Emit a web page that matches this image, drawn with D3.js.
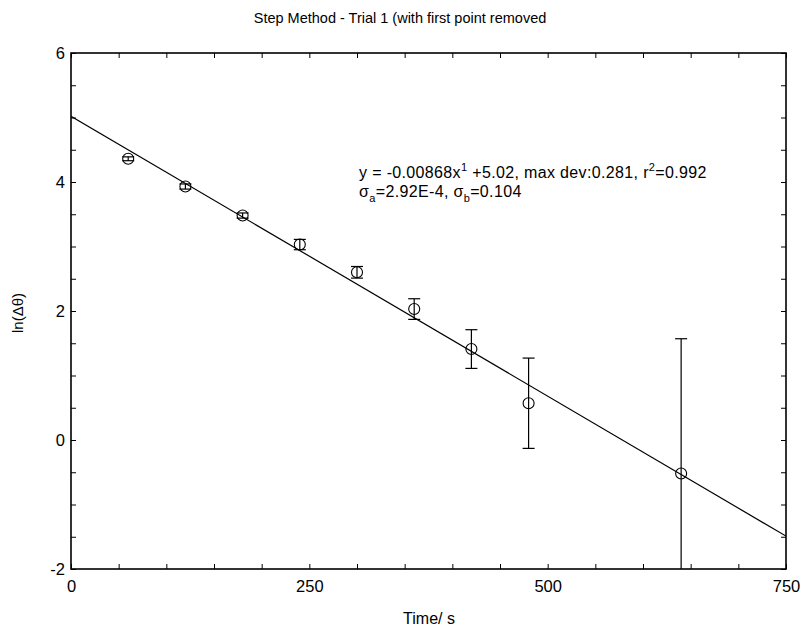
<!DOCTYPE html>
<html>
<head>
<meta charset="utf-8">
<title>Step Method</title>
<script src="https://d3js.org/d3.v7.min.js"></script>
<style>
  body { margin: 0; background: #fff; }
  text { font-family: "Liberation Sans", Arial, sans-serif; fill: #000; }
</style>
</head>
<body>
<div id="container"></div>
<script>
// data
var times = [60, 120, 180, 240, 300, 360, 420, 480, 640];
var lnDelta = [4.36, 3.93, 3.48, 3.03, 2.60, 2.03, 1.41, 0.57, -0.52];
var errors = [0.03, 0.04, 0.04, 0.08, 0.09, 0.16, 0.30, 0.70, 2.09];
var fitSlope = -0.00868;
var fitIntercept = 5.02;
var xTicks = [0, 250, 500, 750];
var yTicks = [-2, 0, 2, 4, 6];

var width = 801, height = 631;
var margin = {left: 71, right: 15, top: 53, bottom: 62};

var svg = d3.select("#container").append("svg")
    .attr("width", width).attr("height", height);

var x = d3.scaleLinear().domain([0, 750]).range([margin.left, width - margin.right]);
var y = d3.scaleLinear().domain([-2, 6]).range([height - margin.bottom, margin.top]);

svg.append("defs").append("clipPath").attr("id", "clip")
  .append("rect")
    .attr("x", x(0)).attr("y", y(6))
    .attr("width", x(750) - x(0)).attr("height", y(-2) - y(6));

// minor ticks every 50 on x, every 0.5 on y, inward on all four sides
var xMinor = d3.range(0, 751, 50);
var yMinor = d3.range(-2, 6.01, 0.5);

svg.append("g").attr("transform", "translate(0," + y(-2) + ")")
    .call(d3.axisTop(x).tickValues(xMinor).tickSize(5).tickFormat(""))
    .call(g => g.select(".domain").remove());
svg.append("g").attr("transform", "translate(0," + y(6) + ")")
    .call(d3.axisBottom(x).tickValues(xMinor).tickSize(5).tickFormat(""))
    .call(g => g.select(".domain").remove());
svg.append("g").attr("transform", "translate(" + x(0) + ",0)")
    .call(d3.axisRight(y).tickValues(yMinor).tickSize(5).tickFormat(""))
    .call(g => g.select(".domain").remove());
svg.append("g").attr("transform", "translate(" + x(750) + ",0)")
    .call(d3.axisLeft(y).tickValues(yMinor).tickSize(5).tickFormat(""))
    .call(g => g.select(".domain").remove());

// labels (plain hyphen for negatives, like the original)
var plain = function(d) { return String(d); };
svg.append("g").attr("transform", "translate(0," + y(-2) + ")")
    .call(d3.axisBottom(x).tickValues(xTicks).tickSize(0).tickPadding(11).tickFormat(plain))
    .call(g => g.select(".domain").remove())
    .selectAll("text").style("font-size", "16.5px").attr("font-family", null);
svg.append("g").attr("transform", "translate(" + x(0) + ",0)")
    .call(d3.axisLeft(y).tickValues(yTicks).tickSize(0).tickPadding(6).tickFormat(plain))
    .call(g => g.select(".domain").remove())
    .selectAll("text").style("font-size", "16.5px").attr("font-family", null);

// frame
svg.append("rect")
    .attr("x", x(0)).attr("y", y(6))
    .attr("width", x(750) - x(0)).attr("height", y(-2) - y(6))
    .attr("fill", "none").attr("stroke", "#000").attr("stroke-width", 1.6);

var plot = svg.append("g").attr("clip-path", "url(#clip)");

// fit line
plot.append("line")
    .attr("x1", x(0)).attr("y1", y(fitIntercept))
    .attr("x2", x(750)).attr("y2", y(fitIntercept + fitSlope * 750))
    .attr("stroke", "#000").attr("stroke-width", 1.2);

var pts = times.map(function(t, i) { return {t: t, v: lnDelta[i], e: errors[i]}; });

var bars = plot.selectAll(".err").data(pts).enter().append("g")
    .attr("stroke", "#000").attr("stroke-width", 1.2);
bars.append("line")
    .attr("x1", d => x(d.t)).attr("x2", d => x(d.t))
    .attr("y1", d => y(d.v - d.e)).attr("y2", d => y(d.v + d.e));
bars.append("line")
    .attr("x1", d => x(d.t) - 6).attr("x2", d => x(d.t) + 6)
    .attr("y1", d => y(d.v + d.e)).attr("y2", d => y(d.v + d.e));
bars.append("line")
    .attr("x1", d => x(d.t) - 6).attr("x2", d => x(d.t) + 6)
    .attr("y1", d => y(d.v - d.e)).attr("y2", d => y(d.v - d.e));

plot.selectAll(".pt").data(pts).enter().append("circle")
    .attr("cx", d => x(d.t)).attr("cy", d => y(d.v)).attr("r", 5.5)
    .attr("fill", "none").attr("stroke", "#000").attr("stroke-width", 1.1);

// title and axis titles
svg.append("text").attr("x", 400).attr("y", 23).attr("text-anchor", "middle")
    .style("font-size", "14.5px").text("Step Method - Trial 1 (with first point removed");
svg.append("text").attr("x", 429).attr("y", 624).attr("text-anchor", "middle")
    .style("font-size", "16px").text("Time/ s");
svg.append("text").attr("transform", "translate(23,313) rotate(-90)")
    .attr("text-anchor", "middle").style("font-size", "15px").text("ln(Δθ)");

// fit annotation
var ann = svg.append("text").attr("x", 359).attr("y", 178)
    .style("font-size", "16px").style("letter-spacing", "0.35px");
ann.append("tspan").text("y = -0.00868x");
ann.append("tspan").attr("dy", -7).style("font-size", "11px").text("1");
ann.append("tspan").attr("dy", 7).text(" +5.02, max dev:0.281, r");
ann.append("tspan").attr("dy", -7).style("font-size", "11px").text("2");
ann.append("tspan").attr("dy", 7).text("=0.992");

var ann2 = svg.append("text").attr("x", 359).attr("y", 197)
    .style("font-size", "16px").style("letter-spacing", "0.35px");
ann2.append("tspan").text("σ");
ann2.append("tspan").attr("dy", 5).style("font-size", "11px").text("a");
ann2.append("tspan").attr("dy", -5).text("=2.92E-4, σ");
ann2.append("tspan").attr("dy", 5).style("font-size", "11px").text("b");
ann2.append("tspan").attr("dy", -5).text("=0.104");
</script>
</body>
</html>
